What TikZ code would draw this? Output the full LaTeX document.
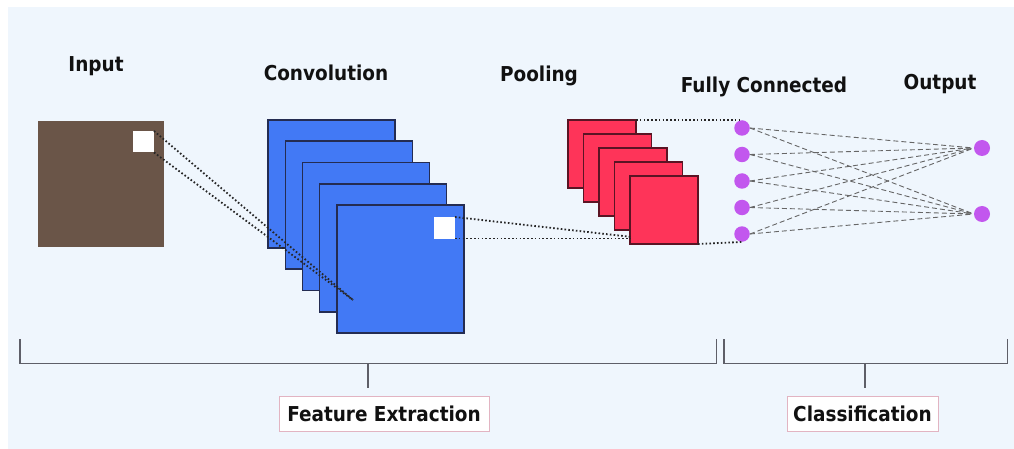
\documentclass[tikz,border=0pt]{standalone}
\usepackage{fontspec}
\newfontfamily\labfont{DejaVu Sans Condensed Bold}
\definecolor{bgblue}{HTML}{EFF6FD}
\definecolor{inbrown}{HTML}{6A5548}
\definecolor{convblue}{HTML}{4279F5}
\definecolor{convedge}{HTML}{242C52}
\definecolor{poolred}{HTML}{FE3459}
\definecolor{pooledge}{HTML}{5A1424}
\definecolor{neuron}{HTML}{C257EE}
\definecolor{bracketgray}{HTML}{5E5F68}
\definecolor{boxedge}{HTML}{E2B4C2}
\definecolor{inktext}{HTML}{111111}
\tikzset{
  title/.style={font=\labfont\fontsize{20.5}{24}\selectfont, text=inktext, anchor=base, inner sep=0pt},
  sheet/.style={anchor=north west, inner sep=0pt, outer sep=0pt},
  convmap/.style={sheet, draw=convedge, line width=1.3pt, fill=convblue, minimum width=127pt, minimum height=128pt},
  poolmap/.style={sheet, draw=pooledge, line width=1.1pt, fill=poolred, minimum width=68pt, minimum height=68pt},
  patch/.style={sheet, fill=white, minimum width=21pt, minimum height=21.5pt},
  unit/.style={circle, fill=neuron, inner sep=0pt, minimum size=15.5pt},
  dotlink/.style={draw=black!85, line width=1.8pt, dash pattern=on 1.6pt off 2.2pt},
  dashlink/.style={draw=black!60, line width=0.9pt, dash pattern=on 5pt off 3pt},
  bracket/.style={draw=bracketgray, line width=1.9pt},
  tag/.style={font=\labfont\fontsize{20.5}{24}\selectfont, text=inktext, draw=boxedge, line width=0.9pt, fill=white, inner sep=0pt, minimum height=35pt}
}
\begin{document}
\begin{tikzpicture}[x=1pt, y=-1pt]
  % canvas
  \fill[white] (0,0) rectangle (1014,449);
  \fill[bgblue] (8,7) rectangle (1014,449);
  \useasboundingbox (0,0) rectangle (1014,449);

  % stage titles
  \node[title] (tin)  at (96,72)  {Input};
  \node[title] (tcv)  at (326,81) {Convolution};
  \node[title] (tpl)  at (539,82) {Pooling};
  \node[title] (tfc)  at (764,93) {Fully Connected};
  \node[title] (tout) at (940,90) {Output};

  % input image with its receptive patch
  \node[sheet, fill=inbrown, minimum width=126pt, minimum height=126pt] (img) at (38,121) {};
  \node[patch] (ipatch) at (133,131) {};

  % stack of convolution feature maps
  \node[convmap] (c1) at (268,120) {};
  \node[convmap] (c2) at (285.5,141) {};
  \node[convmap] (c3) at (302.5,162.5) {};
  \node[convmap] (c4) at (319.5,184) {};
  \node[convmap] (c5) at (337,205) {};
  \node[patch] (cpatch) at (434,217) {};

  % stack of pooled maps
  \node[poolmap] (p1) at (568,120) {};
  \node[poolmap] (p2) at (583.5,134) {};
  \node[poolmap] (p3) at (599,148) {};
  \node[poolmap] (p4) at (614.5,162) {};
  \node[poolmap] (p5) at (630,176) {};

  % fully connected layer and output units
  \node[unit] (f1) at (742,128) {};
  \node[unit] (f2) at (742,154.5) {};
  \node[unit] (f3) at (742,181) {};
  \node[unit] (f4) at (742,207.5) {};
  \node[unit] (f5) at (742,234) {};
  \node[unit, minimum size=16pt] (o1) at (982,148) {};
  \node[unit, minimum size=16pt] (o2) at (982,214) {};

  % receptive field projections
  \coordinate (hit) at (353,300);
  \draw[dotlink] (ipatch.north east) -- (hit);
  \draw[dotlink] (ipatch.south east) -- (hit);
  \coordinate (pin) at (632,237);
  \draw[dotlink] (cpatch.north east) -- (pin);
  \draw[dotlink] (cpatch.south east) -- (cpatch.south east -| p5.west);
  \draw[dotlink] (p1.north east) -- (p1.north east -| f1);
  \draw[dotlink] (p5.south east) -- (f5.south);

  % dense connections
  \foreach \f in {f1,f2,f3,f4,f5}
    \foreach \o in {o1,o2}
      \draw[dashlink, shorten >=2pt] (\f.east) -- (\o.west);

  % section brackets with their stems
  \draw[bracket] (20,339) -- (20,363.5) -- (716.5,363.5) -- (716.5,339);
  \draw[bracket] (724,339) -- (724,363.5) -- (1007.5,363.5) -- (1007.5,339);
  \node[tag, minimum width=210pt] (fe) at (384,413.5) {Feature Extraction};
  \node[tag, minimum width=151pt] (cl) at (862.5,413.5) {Classification};
  \coordinate (festem) at (368,363.5);
  \coordinate (clstem) at (865,363.5);
  \draw[bracket, line width=1.3pt] (festem) -- ([yshift=8pt]festem |- fe.north);
  \draw[bracket, line width=1.3pt] (clstem) -- ([yshift=8pt]clstem |- cl.north);
\end{tikzpicture}
\end{document}
